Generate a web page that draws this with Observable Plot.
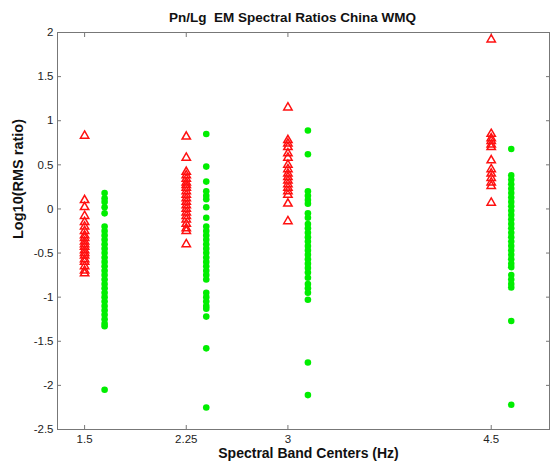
<!DOCTYPE html>
<html><head><meta charset="utf-8">
<script src="https://cdn.jsdelivr.net/npm/d3@7"></script>
<script src="https://cdn.jsdelivr.net/npm/@observablehq/plot@0.6"></script>
<style>body{margin:0;background:#fff}</style>
</head><body><div id="chart"></div>
<script>
const titleText = "Pn/Lg  EM Spectral Ratios China WMQ";
const xLabel = "Spectral Band Centers (Hz)";
const yLabel = "Log10(RMS ratio)";
const bands = [1.5, 2.25, 3, 4.5];
const bandLabels = ["1.5", "2.25", "3", "4.5"];
const yTicks = [2, 1.5, 1, 0.5, 0, -0.5, -1, -1.5, -2, -2.5];
const yTickLabels = ["2", "1.5", "1", "0.5", "0", "-0.5", "-1", "-1.5", "-2", "-2.5"];

// red triangles (explosions) per band
const red_1_5 = [0.83, 0.1, 0.02, -0.08, -0.15, -0.2, -0.25, -0.3, -0.33, -0.37, -0.4, -0.43, -0.47, -0.5, -0.53, -0.57, -0.6, -0.65, -0.7, -0.73];
const red_2_25 = [0.82, 0.58, 0.42, 0.38, 0.34, 0.3, 0.27, 0.24, 0.2, 0.16, 0.12, 0.08, 0.04, 0.0, -0.04, -0.08, -0.12, -0.17, -0.22, -0.25, -0.4];
const red_3 = [1.15, 0.78, 0.74, 0.7, 0.63, 0.58, 0.5, 0.45, 0.4, 0.36, 0.32, 0.28, 0.24, 0.2, 0.16, 0.06, -0.14];
const red_4_5 = [1.92, 0.85, 0.8, 0.77, 0.73, 0.7, 0.55, 0.45, 0.4, 0.35, 0.3, 0.26, 0.07];

// green dots (earthquakes) per band
const green_1_5 = [0.18, 0.12, 0.08, 0.02, -0.05, -0.2, -0.25, -0.3, -0.35, -0.4, -0.45, -0.5, -0.55, -0.6, -0.65, -0.7, -0.75, -0.8, -0.85, -0.9, -0.95, -1.0, -1.05, -1.1, -1.15, -1.2, -1.25, -1.3, -1.33, -2.05];
const green_2_25 = [0.85, 0.48, 0.31, 0.2, 0.15, 0.11, 0.02, -0.1, -0.2, -0.25, -0.3, -0.35, -0.4, -0.45, -0.5, -0.55, -0.6, -0.65, -0.7, -0.75, -0.8, -0.95, -1.0, -1.05, -1.1, -1.13, -1.22, -1.58, -2.25];
const green_3 = [0.89, 0.62, 0.2, 0.15, 0.1, 0.06, -0.05, -0.1, -0.17, -0.22, -0.27, -0.32, -0.37, -0.42, -0.47, -0.52, -0.57, -0.62, -0.67, -0.72, -0.78, -0.85, -0.9, -0.95, -1.03, -1.74, -2.11];
const green_4_5 = [0.68, 0.38, 0.33, 0.28, 0.23, 0.18, 0.13, 0.08, 0.03, -0.02, -0.07, -0.12, -0.17, -0.22, -0.27, -0.32, -0.37, -0.42, -0.47, -0.52, -0.57, -0.62, -0.66, -0.75, -0.8, -0.85, -0.89, -1.27, -2.22];

const redSets = [red_1_5, red_2_25, red_3, red_4_5];
const greenSets = [green_1_5, green_2_25, green_3, green_4_5];
const redRows = redSets.flatMap((vals, i) => vals.map(v => ({x: bands[i], y: v})));
const greenRows = greenSets.flatMap((vals, i) => vals.map(v => ({x: bands[i], y: v})));

const font = "'Liberation Sans', Arial, sans-serif";
const axisColor = "#777";

const chart = Plot.plot({
  width: 551,
  height: 466,
  marginLeft: 57,
  marginRight: 2,
  marginTop: 32,
  marginBottom: 37,
  x: {domain: [1.3, 4.93]},
  y: {domain: [-2.5, 2]},
  style: {fontFamily: font, fontSize: "11px", background: "white", color: "#222"},
  marks: [
    Plot.frame({stroke: axisColor}),
    Plot.axisX({anchor: "bottom", ticks: bands, tickSize: -4, tickPadding: 9, stroke: axisColor,
      tickFormat: d => bandLabels[bands.indexOf(d)], label: null, fill: "#222", fontSize: 11.5}),
    Plot.axisX({anchor: "top", ticks: bands, tickSize: -4, tickFormat: () => "", label: null, stroke: axisColor}),
    Plot.axisY({anchor: "left", ticks: yTicks, tickSize: -4, tickPadding: 8, stroke: axisColor,
      tickFormat: d => yTickLabels[yTicks.indexOf(d)], label: null, fill: "#222", fontSize: 11.5}),
    Plot.axisY({anchor: "right", ticks: yTicks, tickSize: -4, tickFormat: () => "", label: null, stroke: axisColor}),
    Plot.dot(greenRows, {x: "x", y: "y", dx: 20, r: 3.3, fill: "#00ee00", stroke: "none"}),
    Plot.dot(redRows, {x: "x", y: "y", symbol: "triangle", r: 3.1, stroke: "#ff1010", strokeWidth: 1.5, fill: "none"}),
    Plot.text([titleText], {frameAnchor: "top", dy: -20, dx: -11, fontSize: 13.5, fontWeight: "bold", fill: "#111"}),
    Plot.text([xLabel], {frameAnchor: "bottom", dy: 28.5, dx: 5, fontSize: 14, fontWeight: "bold", fill: "#111"}),
    Plot.text([yLabel], {frameAnchor: "left", dx: -39, dy: 8, rotate: -90, fontSize: 14.5, fontWeight: "bold", fill: "#111"})
  ]
});
document.getElementById("chart").appendChild(chart);
</script>
</body></html>
